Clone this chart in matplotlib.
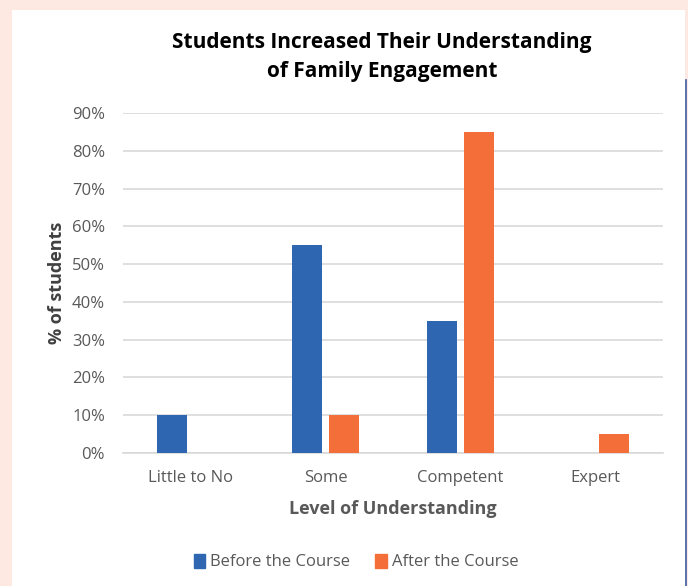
import matplotlib
matplotlib.use("Agg")
import matplotlib.pyplot as plt
import numpy as np
from matplotlib.patches import Rectangle
from matplotlib.lines import Line2D

categories = ["Little to No", "Some", "Competent", "Expert"]
before = [10, 55, 35, 0]
after = [0, 10, 85, 5]
yticks = [0, 10, 20, 30, 40, 50, 60, 70, 80, 90]
series_names = ["Before the Course", "After the Course"]

plt.rcParams['font.family'] = ['Open Sans', 'DejaVu Sans']

W, H = 688, 586
fig = plt.figure(figsize=(W/100, H/100), dpi=100)
fig.patch.set_facecolor("#fde8e2")
# white panel
fig.add_artist(Rectangle((12/W, 0), (685-12)/W, 1 - 10/H, transform=fig.transFigure,
                         facecolor="white", edgecolor="none", zorder=0))
fig.add_artist(Line2D([685.5/W, 685.5/W], [0, 1 - 80/H], transform=fig.transFigure,
                      color="#3a5ea8", lw=1.2, zorder=1))

ax = fig.add_axes([123/W, 1 - 453/H, (663-123)/W, (453-113)/H])
ax.set_facecolor("white")
x = np.arange(len(categories))
bw = 0.222
off = 0.14
blue = "#2e66b1"
orange = "#f46e3a"
ax.bar(x - off, before, bw, color=blue, zorder=3, label=series_names[0])
ax.bar(x + off, after, bw, color=orange, zorder=3, label=series_names[1])
ax.set_xlim(-0.5, 3.5)
ax.set_ylim(0, 90)
ax.set_yticks(yticks)
ax.set_yticklabels([f"{v}%" for v in yticks])
ax.grid(axis="y", color="#d9d9d9", lw=1.2, zorder=0)
ax.set_axisbelow(True)
for s in ["top", "right", "left"]:
    ax.spines[s].set_visible(False)
ax.spines["bottom"].set_color("#d9d9d9")
ax.spines["bottom"].set_linewidth(1.2)
ax.tick_params(axis="both", length=0, labelsize=12, colors="#595959")
ax.tick_params(axis="y", pad=13)
ax.tick_params(axis="x", pad=12)
ax.set_xticks(x)
ax.set_xticklabels(categories)
ax.set_xlabel("Level of Understanding", fontsize=13, fontweight="bold", color="#595959", labelpad=10)
ax.set_ylabel("% of students", fontsize=13, fontweight="bold", color="#404040", labelpad=4)

fig.text(382/W, 1 - 57/H, "Students Increased Their Understanding\nof Family Engagement",
         ha="center", va="center", fontsize=15, fontweight="bold", color="black", linespacing=1.45)

handles = [Rectangle((0, 0), 1, 1, color=blue), Rectangle((0, 0), 1, 1, color=orange)]
fig.legend(handles, series_names, loc="center", bbox_to_anchor=(356/W, 1 - 562/H),
           ncol=2, frameon=False, fontsize=12, handlelength=0.7, handleheight=0.9,
           handletextpad=0.3, columnspacing=1.5, labelcolor="#595959")

fig.savefig("out.png", dpi=100, facecolor=fig.get_facecolor())
